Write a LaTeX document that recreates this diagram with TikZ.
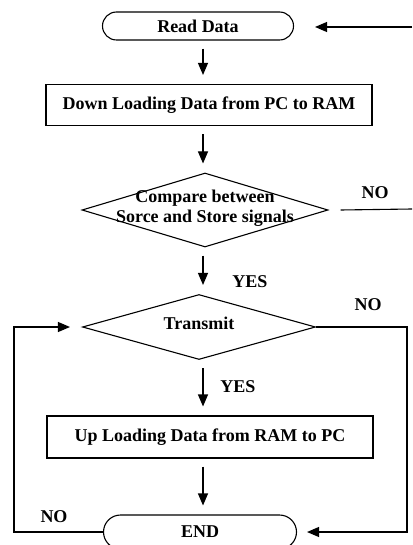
\documentclass[tikz,border=0pt]{standalone}
\usepackage{fontspec}
\setmainfont{Liberation Serif}
\usetikzlibrary{arrows.meta, positioning, shapes.geometric, shapes.misc}

\begin{document}
\begin{tikzpicture}[
    x=1pt, y=-1pt,
    font=\bfseries\fontsize{18}{20}\selectfont,
    term/.style={draw, line width=1.1pt, rounded rectangle, minimum width=191pt, minimum height=28pt, inner sep=0pt},
    procbox/.style={draw, line width=1.1pt, minimum width=326pt, minimum height=41pt, inner sep=0pt},
    decide/.style={draw, line width=1.1pt, diamond, inner sep=0pt},
    lbl/.style={inner sep=0pt},
    arr/.style={line width=1.1pt, -{Triangle[length=12pt, width=10pt]}},
    link/.style={line width=1.1pt},
  ]

  \useasboundingbox (0,0) rectangle (412,545);

  % --- flow column ---
  \node[term] (read) at (198,26) {Read Data};
  \node[procbox] (dload) at (209,105) {Down Loading Data from PC to RAM};
  \node[decide, minimum width=246pt, minimum height=74pt] (cmp) at (205,210) {};
  \node[decide, minimum width=233pt, minimum height=65pt] (trans) at (199,327) {};
  \node[procbox, minimum height=42pt] (uload) at (210,437) {Up Loading Data from RAM to PC};
  \node[term, minimum width=193pt, minimum height=34pt] (stop) at (200,532) {END};

  % --- text in the diamonds ---
  \node[lbl, align=center] (cmptext) at (205,208) {Compare between\\Sorce and Store signals};
  \node[lbl] (transtext) at ([yshift=4pt]trans.center) {Transmit};

  % --- labels ---
  \node[lbl] (yes1) at (250,282) {YES};
  \node[lbl] (yes2) at (238,387) {YES};
  \node[lbl] (no1) at (375,193) {NO};
  \node[lbl] (no2) at (368,305) {NO};
  \node[lbl] (no3) at (54,517) {NO};

  % --- main arrows ---
  \coordinate (axis) at (203,0);
  \foreach \a/\b in {read/dload, dload/cmp, cmp/trans, trans/uload, uload/stop} {
    \draw[arr, shorten <=8pt, shorten >=9pt] (\a.south -| axis) -- (\b.north -| axis);
  }

  % --- side lines ---
  \coordinate (rin) at (412,27);
  \coordinate (rout) at (412,209);
  \coordinate (rside) at (407,0);
  \coordinate (lside) at (14,0);
  \draw[arr, shorten >=21pt] (rin) -- (rin -| read.east);
  \draw[link] ([xshift=12pt]cmp.east) -- (rout);
  \draw[arr, shorten >=10pt] (trans.east) -| (rside |- stop.east) -- (stop.east);
  \draw[arr, shorten >=12pt] (stop.west) -| (lside |- trans.west) -- (trans.west);

\end{tikzpicture}
\end{document}
